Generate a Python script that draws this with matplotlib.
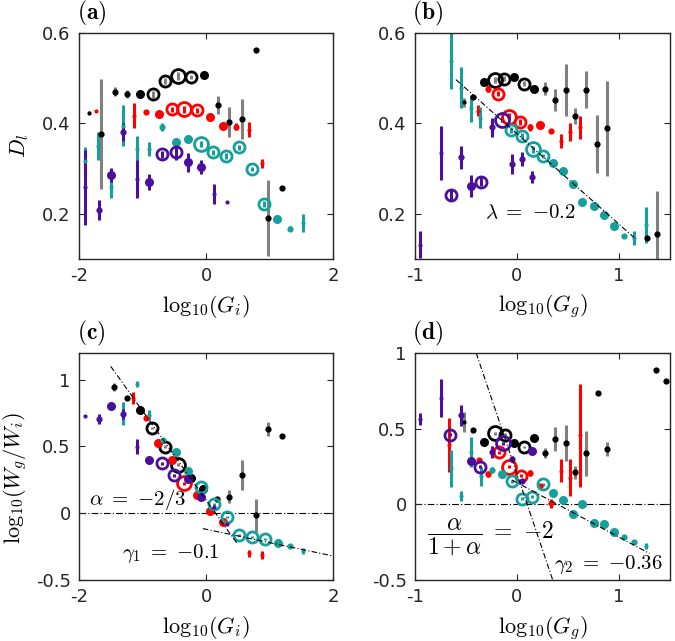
import numpy as np
import matplotlib
matplotlib.use('Agg')
import matplotlib.pyplot as plt

plt.rcParams['mathtext.fontset'] = 'cm'
plt.rcParams['axes.unicode_minus'] = False
plt.rcParams['font.family'] = 'DejaVu Sans'

# colours of the four series
BLACK = '#000000'
RED = '#ff0000'
TEAL = '#15a09c'
PURPLE = '#4a0f9c'
GRAY = '#808080'

# point size class: 1 tiny dot, 2 small dot, 3 filled, 4 open, 5 large open
# ---------------- panel (a): D_l vs log10(G_i)
a_blk_x = [-1.84, -1.65, -1.44, -1.24, -1.04, -0.83, -0.64, -0.44, -0.24, -0.03, 0.19, 0.37, 0.57, 0.78, 0.98, 1.20]
a_blk_y = [0.424, 0.376, 0.470, 0.465, 0.466, 0.464, 0.494, 0.505, 0.503, 0.507, 0.440, 0.403, 0.409, 0.563, 0.191, 0.258]
a_blk_e = [0.003, 0.122, 0.010, 0.008, 0.006, 0.008, 0.006, 0.008, 0.005, 0.005, 0.020, 0.034, 0.044, 0.0, 0.084, 0.0]
a_blk_c = [1, 2, 2, 2, 3, 4, 4, 5, 4, 3, 2, 2, 2, 2, 2, 2]

a_red_x = [-1.74, -1.14, -0.94, -0.74, -0.54, -0.35, -0.14, 0.07, 0.27, 0.48, 0.67, 0.88]
a_red_y = [0.428, 0.417, 0.425, 0.420, 0.431, 0.431, 0.429, 0.415, 0.395, 0.393, 0.386, 0.312]
a_red_e = [0.0, 0.028, 0.005, 0.005, 0.006, 0.008, 0.006, 0.005, 0.005, 0.008, 0.017, 0.010]
a_red_c = [1, 1, 2, 3, 4, 5, 4, 3, 3, 2, 1, 1]

a_tea_x = [-1.90, -1.70, -1.49, -1.30, -1.09, -0.89, -0.69, -0.48, -0.29, -0.08, 0.11, 0.32, 0.52, 0.72, 0.92, 1.12, 1.33, 1.53]
a_tea_y = [0.317, 0.350, 0.259, 0.395, 0.343, 0.343, 0.392, 0.359, 0.365, 0.354, 0.336, 0.328, 0.347, 0.299, 0.222, 0.189, 0.167, 0.180]
a_tea_e = [0.030, 0.030, 0.025, 0.045, 0.030, 0.016, 0.008, 0.004, 0.005, 0.006, 0.006, 0.006, 0.006, 0.005, 0.006, 0.004, 0.006, 0.020]
a_tea_c = [1, 1, 1, 1, 1, 1, 2, 3, 3, 5, 4, 4, 4, 4, 4, 3, 2, 1]

a_pur_x = [-1.90, -1.69, -1.49, -1.30, -1.09, -0.89, -0.69, -0.48, -0.28, -0.08, 0.12, 0.33]
a_pur_y = [0.259, 0.209, 0.286, 0.380, 0.277, 0.271, 0.332, 0.336, 0.314, 0.303, 0.244, 0.227]
a_pur_e = [0.083, 0.022, 0.015, 0.020, 0.041, 0.018, 0.008, 0.016, 0.021, 0.015, 0.022, 0.0]
a_pur_c = [1, 2, 3, 2, 1, 3, 4, 4, 3, 3, 1, 1]

# ---------------- panel (b): D_l vs log10(G_g)
b_blk_x = [-0.52, -0.43, -0.32, -0.22, -0.13, -0.03, 0.07, 0.17, 0.27, 0.37, 0.48, 0.57, 0.68, 0.78, 0.88, 1.27, 1.37]
b_blk_y = [0.447, 0.458, 0.492, 0.496, 0.499, 0.502, 0.488, 0.477, 0.477, 0.452, 0.474, 0.417, 0.475, 0.354, 0.389, 0.146, 0.156]
b_blk_e = [0.010, 0.004, 0.005, 0.006, 0.006, 0.004, 0.005, 0.005, 0.015, 0.024, 0.057, 0.018, 0.040, 0.064, 0.105, 0.0, 0.095]
b_blk_c = [1, 2, 3, 5, 4, 3, 4, 3, 2, 2, 2, 2, 2, 2, 2, 2, 2]

b_red_x = [-0.38, -0.28, -0.19, -0.08, 0.03, 0.13, 0.23, 0.33, 0.43, 0.52, 0.62]
b_red_y = [0.428, 0.477, 0.466, 0.415, 0.403, 0.391, 0.396, 0.383, 0.361, 0.381, 0.391]
b_red_e = [0.012, 0.008, 0.005, 0.008, 0.006, 0.008, 0.004, 0.004, 0.015, 0.020, 0.026]
b_red_c = [1, 2, 4, 5, 4, 2, 3, 2, 1, 1, 1]

b_tea_x = [-0.65, -0.55, -0.45, -0.36, -0.06, 0.05, 0.16, 0.25, 0.35, 0.45, 0.55, 0.64, 0.75, 0.85, 0.95, 1.05, 1.15, 1.26]
b_tea_y = [0.538, 0.479, 0.433, 0.413, 0.385, 0.372, 0.343, 0.328, 0.312, 0.295, 0.266, 0.227, 0.218, 0.198, 0.174, 0.151, 0.146, 0.176]
b_tea_e = [0.062, 0.046, 0.030, 0.024, 0.006, 0.006, 0.008, 0.005, 0.004, 0.004, 0.003, 0.003, 0.003, 0.003, 0.003, 0.005, 0.015, 0.040]
b_tea_c = [1, 1, 1, 1, 4, 4, 5, 4, 3, 3, 3, 3, 3, 3, 3, 2, 1, 1]

b_pur_x = [-0.95, -0.75, -0.65, -0.55, -0.45, -0.35, -0.25, -0.15, -0.05, 0.05, 0.15]
b_pur_y = [0.132, 0.334, 0.242, 0.325, 0.261, 0.271, 0.391, 0.408, 0.310, 0.321, 0.281]
b_pur_e = [0.030, 0.060, 0.013, 0.026, 0.024, 0.010, 0.020, 0.006, 0.022, 0.015, 0.013]
b_pur_c = [1, 1, 4, 2, 3, 4, 2, 5, 2, 2, 2]

# ---------------- panel (c): log10(Wg/Wi) vs log10(G_i)
c_blk_x = [-1.45, -1.24, -1.04, -0.85, -0.64, -0.44, -0.23, -0.04, 0.17, 0.37, 0.57, 0.78, 0.98, 1.19]
c_blk_y = [0.943, 0.863, 0.775, 0.638, 0.498, 0.363, 0.263, 0.185, 0.110, 0.123, 0.285, -0.015, 0.630, 0.580]
c_blk_e = [0.030, 0.010, 0.008, 0.008, 0.010, 0.010, 0.008, 0.008, 0.010, 0.050, 0.110, 0.125, 0.050, 0.0]
c_blk_c = [2, 2, 3, 4, 4, 5, 3, 3, 2, 2, 2, 2, 2, 2]

c_red_x = [-1.15, -0.94, -0.75, -0.54, -0.34, -0.14, 0.07, 0.27, 0.67, 0.88]
c_red_y = [0.860, 0.713, 0.523, 0.400, 0.225, 0.138, 0.013, -0.063, -0.300, -0.315]
c_red_e = [0.045, 0.010, 0.010, 0.010, 0.010, 0.010, 0.010, 0.010, 0.025, 0.030]
c_red_c = [1, 2, 3, 3, 5, 3, 3, 3, 1, 1]

c_tea_x = [-1.30, -1.09, -0.89, -0.68, -0.48, -0.28, -0.08, 0.12, 0.33, 0.52, 0.72, 0.93, 1.13, 1.33, 1.53]
c_tea_y = [0.748, 0.968, 0.735, 0.550, 0.455, 0.318, 0.193, 0.068, -0.028, -0.163, -0.178, -0.190, -0.220, -0.245, -0.283]
c_tea_e = [0.085, 0.025, 0.035, 0.010, 0.008, 0.008, 0.008, 0.008, 0.008, 0.008, 0.008, 0.008, 0.006, 0.006, 0.020]
c_tea_c = [1, 1, 1, 2, 3, 3, 4, 4, 4, 4, 4, 4, 3, 2, 1]

c_pur_x = [-1.90, -1.69, -1.49, -1.30, -1.09, -0.89, -0.69, -0.51, -0.28, -0.08, 0.12, 0.33]
c_pur_y = [0.725, 0.705, 0.805, 0.743, 0.498, 0.400, 0.373, 0.285, 0.260, 0.118, 0.048, -0.083]
c_pur_e = [0.0, 0.038, 0.020, 0.038, 0.055, 0.010, 0.010, 0.010, 0.008, 0.008, 0.010, 0.0]
c_pur_c = [1, 2, 3, 2, 1, 3, 4, 4, 3, 3, 1, 1]

# ---------------- panel (d): log10(Wg/Wi) vs log10(G_g)
d_blk_x = [-0.52, -0.43, -0.32, -0.22, -0.12, -0.03, 0.07, 0.17, 0.27, 0.37, 0.48, 0.57, 0.68, 0.79, 0.88, 1.36, 1.46]
d_blk_y = [0.543, 0.488, 0.410, 0.470, 0.459, 0.404, 0.381, 0.437, 0.339, 0.432, 0.406, 0.211, 0.337, 0.738, 0.366, 0.887, 0.816]
d_blk_e = [0.066, 0.005, 0.006, 0.010, 0.010, 0.006, 0.006, 0.015, 0.033, 0.078, 0.117, 0.044, 0.150, 0.0, 0.044, 0.0, 0.0]
d_blk_c = [1, 2, 3, 5, 4, 3, 4, 3, 2, 2, 2, 2, 2, 2, 2, 2, 2]

d_red_x = [-0.67, -0.37, -0.28, -0.18, -0.08, 0.04, 0.13, 0.23, 0.33, 0.43, 0.52, 0.62]
d_red_y = [0.392, 0.295, 0.200, 0.344, 0.250, 0.188, 0.206, 0.122, 0.007, 0.222, 0.177, 0.455]
d_red_e = [0.177, 0.010, 0.020, 0.010, 0.010, 0.010, 0.020, 0.010, 0.030, 0.075, 0.122, 0.340]
d_red_c = [1, 2, 2, 4, 5, 4, 2, 2, 2, 1, 1, 1]

d_tea_x = [-0.65, -0.55, -0.45, -0.35, -0.25, -0.15, -0.05, 0.05, 0.15, 0.25, 0.35, 0.45, 0.55, 0.64, 0.75, 0.85, 0.95, 1.05, 1.15, 1.26]
d_tea_y = [0.237, 0.055, 0.344, 0.184, 0.228, 0.200, 0.151, 0.038, 0.049, 0.133, 0.073, 0.029, -0.062, 0.0, -0.126, -0.133, -0.184, -0.215, -0.250, -0.277]
d_tea_e = [0.120, 0.030, 0.100, 0.060, 0.020, 0.008, 0.008, 0.010, 0.010, 0.010, 0.008, 0.008, 0.008, 0.008, 0.006, 0.006, 0.006, 0.006, 0.010, 0.020]
d_tea_c = [1, 1, 1, 1, 2, 3, 4, 4, 4, 4, 3, 3, 3, 3, 3, 3, 3, 2, 2, 1]

d_pur_x = [-0.95, -0.75, -0.66, -0.55, -0.45, -0.36, -0.25, -0.14, -0.05, 0.05, 0.15]
d_pur_y = [0.561, 0.703, 0.461, 0.588, 0.284, 0.250, 0.348, 0.403, 0.299, 0.151, 0.350]
d_pur_e = [0.040, 0.125, 0.010, 0.070, 0.020, 0.010, 0.040, 0.010, 0.020, 0.010, 0.010]
d_pur_c = [1, 1, 4, 2, 3, 4, 2, 5, 2, 2, 3]

# fitted power laws: (slope, intercept, x from, x to)
fit_b = (-0.2, 0.377, -0.6, 1.15)
fit_c1 = (-2/3, 0.10, -1.5, 0.50)
fit_c2 = (-0.1, -0.12, -0.05, 2.0)
fit_d1 = (-2.0, 0.20, -0.40, 0.35)
fit_d2 = (-0.36, 0.143, -0.05, 1.30)

MS = {1: 3.0, 2: 4.5, 3: 6.5, 4: 8.0, 5: 10.0}


def draw_series(ax, x, y, e, cat, color, ecolor):
    x = np.asarray(x); y = np.asarray(y); e = np.asarray(e); cat = np.asarray(cat)
    ax.errorbar(x, y, yerr=e, fmt='none', ecolor=ecolor, elinewidth=2.2, capsize=0, zorder=2)
    for k in (1, 2, 3):
        m = cat == k
        if m.any():
            ax.plot(x[m], y[m], 'o', ms=MS[k], color=color, mec=color, mew=0, zorder=3, ls='none')
    for k in (4, 5):
        m = cat == k
        if m.any():
            ax.plot(x[m], y[m], 'o', ms=MS[k], mfc='none', mec=color, mew=2.0, zorder=3, ls='none')


def draw_fit(ax, fit):
    s, b, x0, x1 = fit
    xs = np.array([x0, x1])
    ax.plot(xs, s * xs + b, color='k', lw=0.8, ls=(0, (5, 2, 1, 2)), zorder=4)


def style(ax, xlim, ylim, xt, yt, xlabel, ylabel, tag):
    ax.set_xlim(*xlim)
    ax.set_ylim(*ylim)
    ax.set_xticks(xt)
    ax.set_yticks(yt)
    ax.set_xticklabels([('%g' % v) for v in xt])
    ax.set_yticklabels([('%g' % v) for v in yt])
    ax.tick_params(direction='in', top=True, right=True, length=4, width=0.8,
                   labelsize=13, colors='#262626', pad=6)
    for sp in ax.spines.values():
        sp.set_color('#262626')
        sp.set_linewidth(1.0)
    ax.set_xlabel(xlabel, fontsize=16, va='center')
    ax.xaxis.set_label_coords(0.5, -0.21)
    if ylabel:
        ax.set_ylabel(ylabel, fontsize=16, va='center')
    ax.text(0.05, 1.085, tag, transform=ax.transAxes, fontsize=17,
            ha='center', va='center')


W, H = 675, 641
fig = plt.figure(figsize=(W / 100, H / 100), dpi=100)


def add_ax(l, t, r, b):
    return fig.add_axes([l / W, (H - b) / H, (r - l) / W, (b - t) / H])


axa = add_ax(79, 33, 333, 259)
axb = add_ax(415, 33, 670, 259)
axc = add_ax(79, 353, 333, 580)
axd = add_ax(415, 353, 670, 580)

panels = [
    (axa, [(a_blk_x, a_blk_y, a_blk_e, a_blk_c), (a_red_x, a_red_y, a_red_e, a_red_c),
           (a_tea_x, a_tea_y, a_tea_e, a_tea_c), (a_pur_x, a_pur_y, a_pur_e, a_pur_c)]),
    (axb, [(b_blk_x, b_blk_y, b_blk_e, b_blk_c), (b_red_x, b_red_y, b_red_e, b_red_c),
           (b_tea_x, b_tea_y, b_tea_e, b_tea_c), (b_pur_x, b_pur_y, b_pur_e, b_pur_c)]),
    (axc, [(c_blk_x, c_blk_y, c_blk_e, c_blk_c), (c_red_x, c_red_y, c_red_e, c_red_c),
           (c_tea_x, c_tea_y, c_tea_e, c_tea_c), (c_pur_x, c_pur_y, c_pur_e, c_pur_c)]),
    (axd, [(d_blk_x, d_blk_y, d_blk_e, d_blk_c), (d_red_x, d_red_y, d_red_e, d_red_c),
           (d_tea_x, d_tea_y, d_tea_e, d_tea_c), (d_pur_x, d_pur_y, d_pur_e, d_pur_c)]),
]
colors = [(BLACK, GRAY), (RED, RED), (TEAL, TEAL), (PURPLE, PURPLE)]

for ax, series in panels:
    for (x, y, e, c), (col, ecol) in zip(series, colors):
        draw_series(ax, x, y, e, c, col, ecol)

# reference lines
draw_fit(axb, fit_b)
for ax in (axc, axd):
    ax.axhline(0, color='k', lw=0.8, ls=(0, (6, 2, 1, 2)), zorder=1)
draw_fit(axc, fit_c1)
draw_fit(axc, fit_c2)
draw_fit(axd, fit_d1)
draw_fit(axd, fit_d2)

style(axa, (-2, 2), (0.1, 0.6), [-2, 0, 2], [0.2, 0.4, 0.6],
      r'$\mathrm{log}_{10}(G_i)$', r'$D_l$', r'$\mathbf{(a)}$')
axa.yaxis.set_label_coords(-0.235, 0.5)
style(axb, (-1, 1.5), (0.1, 0.6), [-1, 0, 1], [0.2, 0.4, 0.6],
      r'$\mathrm{log}_{10}(G_g)$', None, r'$\mathbf{(b)}$')
style(axc, (-2, 2), (-0.5, 1.2), [-2, 0, 2], [-0.5, 0, 0.5, 1],
      r'$\mathrm{log}_{10}(G_i)$', r'$\mathrm{log}_{10}(W_g/W_i)$', r'$\mathbf{(c)}$')
axc.yaxis.set_label_coords(-0.25, 0.45)
style(axd, (-1, 1.5), (-0.5, 1.0), [-1, 0, 1], [-0.5, 0, 0.5, 1],
      r'$\mathrm{log}_{10}(G_g)$', None, r'$\mathbf{(d)}$')

# annotations
axb.text(-0.31, 0.204, r'$\lambda\;=$ $-0.2$', fontsize=15, va='center', ha='left')
axc.text(-1.84, 0.10, r'$\alpha\;=$ $-2/3$', fontsize=15, va='center', ha='left')
axc.text(-1.33, -0.30, r'$\gamma_1\;=$ $-0.1$', fontsize=15, va='center', ha='left')
axd.text(-0.88, -0.22, r'$\dfrac{\alpha}{1+\alpha}\;=$ $-2$', fontsize=17, va='center', ha='left')
axd.text(0.36, -0.40, r'$\gamma_2\;=$ $-0.36$', fontsize=15, va='center', ha='left')

fig.savefig('out.png', dpi=100)
